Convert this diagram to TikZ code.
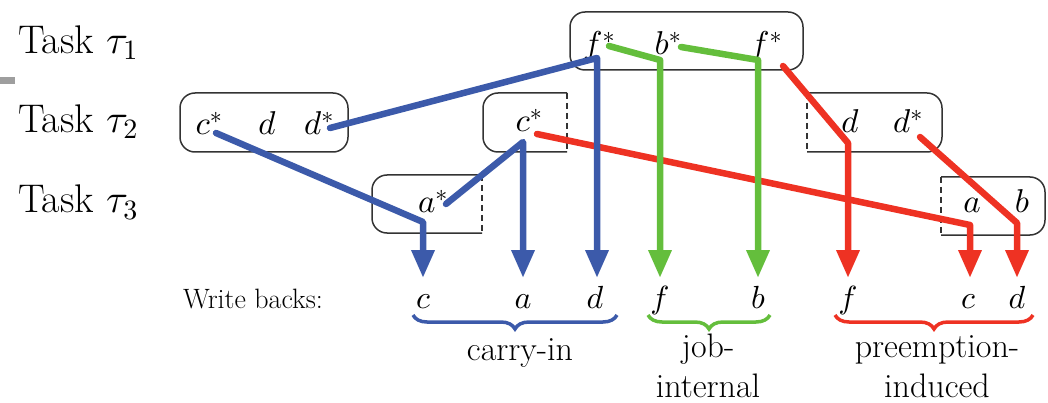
\documentclass[tikz,border=0pt]{standalone}
\DeclareFontShape{OML}{cmm}{m}{it}{<-6>cmmi5<6-8>cmmi7<8->cmmi10}{}
\DeclareFontShape{OMS}{cmsy}{m}{n}{<-6>cmsy5<6-8>cmsy7<8->cmsy10}{}
\DeclareFontShape{OT1}{cmr}{m}{n}{<-6>cmr5<6-8>cmr7<8->cmr10}{}
\usetikzlibrary{arrows.meta,decorations.pathreplacing}
\definecolor{cblue}{RGB}{60,90,170}
\definecolor{cgreen}{RGB}{100,190,60}
\definecolor{cred}{RGB}{238,50,35}
\newcommand{\stx}[1]{#1^{\makebox[0pt][l]{\fontsize{24}{26}\selectfont$\ast$}}}
\begin{document}
\begin{tikzpicture}[x=1pt,y=-1pt,
 tasklbl/.style={anchor=base west,inner sep=0pt,font=\fontsize{40}{44}\selectfont},
 joblt/.style={anchor=base,inner sep=0pt,font=\fontsize{33}{36}\selectfont},
 wblt/.style={anchor=base,inner sep=0pt,font=\fontsize{32}{36}\selectfont},
 grp/.style={anchor=base,inner sep=0pt,font=\fontsize{34}{38}\selectfont},
 frame/.style={draw=black!80,line width=1.5pt,rounded corners=15pt},
 openside/.style={draw=black!80,line width=1.5pt,dash pattern=on 6pt off 4pt},
 wire/.style={line width=6.5pt,line cap=round,line join=round,-{Triangle[length=28pt,width=22pt]}},
 brc/.style={line width=3.5pt,decorate,decoration={brace,mirror,amplitude=14pt}}]
\useasboundingbox (0,0) rectangle (1048,403);
\fill[black!38] (0,77) rectangle (15,84);
% task labels
\node[tasklbl] (t1) at (18,54) {Task $\tau_1$};
\node[tasklbl] (t2) at (18,133) {Task $\tau_2$};
\node[tasklbl] (t3) at (18,213) {Task $\tau_3$};
% boxes
\draw[frame] (570,12) rectangle (803,70);
\draw[frame] (180,93) rectangle (348,152);
\draw[frame] (567,93) -- (483,93) -- (483,152) -- (567,152);
\draw[openside] (567,93) -- (567,152);
\draw[frame] (807,93) -- (942,93) -- (942,152) -- (807,152);
\draw[openside] (807,93) -- (807,152);
\draw[frame] (482,175) -- (372,175) -- (372,233) -- (482,233);
\draw[openside] (482,175) -- (482,233);
\draw[frame] (941,177) -- (1045,177) -- (1045,235) -- (941,235);
\draw[openside] (941,177) -- (941,235);
% job letters
\node[joblt] (f1s) at (593,55) {$\stx{f}$};
\node[joblt] (b1s) at (662,55) {$\stx{b}$};
\node[joblt] (f2s) at (760,55) {$\stx{f}$};
\node[joblt] (c2s) at (203,135) {$\stx{c}$};
\node[joblt] (d2) at (267,135) {$d$};
\node[joblt] (d2s) at (313,135) {$\stx{d}$};
\node[joblt] (c3s) at (523,132) {$\stx{c}$};
\node[joblt] (d3) at (850,133) {$d$};
\node[joblt] (d3s) at (902,133) {$\stx{d}$};
\node[joblt] (a1s) at (427,213) {$\stx{a}$};
\node[joblt] (a2) at (972,213) {$a$};
\node[joblt] (b2) at (1022,213) {$b$};
% write backs
\node[anchor=base west,inner sep=0pt,font=\fontsize{28}{32}\selectfont] (wbl) at (183,308) {Write backs:};
\node[wblt] (wc) at (423,308) {$c$};
\node[wblt] (wa) at (523,308) {$a$};
\node[wblt] (wd) at (595,308) {$d$};
\node[wblt] (wf) at (660,308) {$f$};
\node[wblt] (wb) at (758,308) {$b$};
\node[wblt] (wf2) at (848,308) {$f$};
\node[wblt] (wc2) at (968,308) {$c$};
\node[wblt] (wd2) at (1017,308) {$d$};
% connector points
\coordinate (sb1) at (216,133); \coordinate (kb1) at (423,222); \coordinate (eb1) at (423,278);
\coordinate (sb2) at (330,128); \coordinate (kb2) at (597,58);  \coordinate (eb2) at (597,278);
\coordinate (sb3) at (446,204); \coordinate (kb3) at (523,142); \coordinate (eb3) at (523,278);
\coordinate (sg1) at (609,46);  \coordinate (kg1) at (660,60);  \coordinate (eg1) at (660,278);
\coordinate (sg2) at (681,47);  \coordinate (kg2) at (758,60);  \coordinate (eg2) at (758,278);
\coordinate (sr1) at (783,66);  \coordinate (kr1) at (848,143); \coordinate (er1) at (848,278);
\coordinate (sr2) at (537,134); \coordinate (kr2) at (970,225); \coordinate (er2) at (970,278);
\coordinate (sr3) at (920,137); \coordinate (kr3) at (1017,223);\coordinate (er3) at (1017,278);
% connectors
\draw[wire,cred] (sr1) -- (kr1) -- (er1);
\draw[wire,cred] (sr2) -- (kr2) -- (er2);
\draw[wire,cred] (sr3) -- (kr3) -- (er3);
\draw[wire,cblue] (sb1) -- (kb1) -- (eb1);
\draw[wire,cblue] (sb2) -- (kb2) -- (eb2);
\draw[wire,cblue] (sb3) -- (kb3) -- (eb3);
\draw[wire,cgreen] (sg1) -- (kg1) -- (eg1);
\draw[wire,cgreen] (sg2) -- (kg2) -- (eg2);
% braces
\coordinate (bl1) at (413,315); \coordinate (br1) at (617,315);
\coordinate (bl2) at (648,315); \coordinate (br2) at (770,315);
\coordinate (bl3) at (835,315); \coordinate (br3) at (1033,315);
\draw[brc,cblue] (bl1) -- (br1);
\draw[brc,cgreen] (bl2) -- (br2);
\draw[brc,cred] (bl3) -- (br3);
\node[grp] (g1) at (520,360) {carry-in};
\node[grp] (g2a) at (708,357) {job-};
\node[grp] (g2b) at (708,397) {internal};
\node[grp] (g3a) at (937,357) {preemption-};
\node[grp] (g3b) at (937,397) {induced};
\end{tikzpicture}
\end{document}
